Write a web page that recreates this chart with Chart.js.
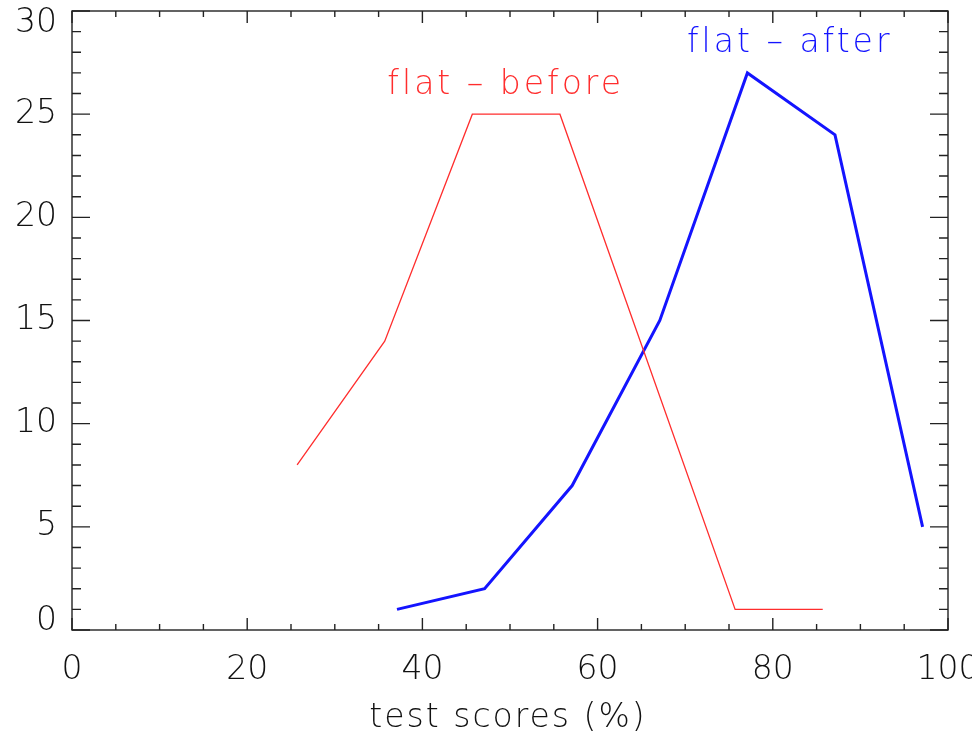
<!DOCTYPE html>
<html>
<head>
<meta charset="utf-8">
<script src="https://cdn.jsdelivr.net/npm/chart.js@4/dist/chart.umd.min.js"></script>
<style>
  html, body { margin: 0; padding: 0; background: #fff; }
  #wrap { width: 972px; height: 739px; }
</style>
</head>
<body>
<div id="wrap"><canvas id="scoreChart"></canvas></div>
<script>
// --- data ---
const beforeScores = [25.7, 35.7, 45.7, 55.7, 75.7, 85.7];
const beforeCounts = [8, 14, 25, 25, 1, 1];
const afterScores = [37.1, 47.1, 57.1, 67.1, 77.1, 87.1, 97.1];
const afterCounts = [1, 2, 7, 15, 27, 24, 5];

const xTickValues = [0, 20, 40, 60, 80, 100];
const yTickValues = [0, 5, 10, 15, 20, 25, 30];

// labels written inside the plot (left edge / baseline in data units)
const noteText = ['flat \u2013 before', 'flat \u2013 after'];
const noteX = [36, 70.2];
const noteY = [26, 28];
const noteColor = ['#ff2d2d', '#1414ff'];

const FONT = '"DejaVu Sans", sans-serif';
const WEIGHT = 200;

function toPoints(xs, ys) {
    return xs.map((x, i) => ({ x: x, y: ys[i] }));
}

// frame, IDL style inward ticks on all four sides, y labels and notes
const idlAxes = {
    id: 'idlAxes',
    afterDraw(chart) {
        const ctx = chart.ctx;
        const a = chart.chartArea;
        const xs = chart.scales.x;
        const ys = chart.scales.y;
        ctx.save();
        ctx.strokeStyle = '#222';
        ctx.lineWidth = 1.4;
        ctx.strokeRect(a.left, a.top, a.right - a.left, a.bottom - a.top);

        ctx.beginPath();
        for (let v = 0; v <= 100; v += 5) {
            const px = xs.getPixelForValue(v);
            const len = v % 20 === 0 ? 12 : 6;
            ctx.moveTo(px, a.bottom); ctx.lineTo(px, a.bottom - len);
            ctx.moveTo(px, a.top); ctx.lineTo(px, a.top + len);
        }
        for (let v = 0; v <= 30; v += 1) {
            const py = ys.getPixelForValue(v);
            const len = v % 5 === 0 ? 18 : 9;
            ctx.moveTo(a.left, py); ctx.lineTo(a.left + len, py);
            ctx.moveTo(a.right, py); ctx.lineTo(a.right - len, py);
        }
        ctx.stroke();

        // y tick labels, kept inside the frame at the ends like IDL does
        ctx.fillStyle = '#111';
        ctx.font = WEIGHT + ' 33px ' + FONT;
        ctx.textAlign = 'right';
        ctx.textBaseline = 'middle';
        yTickValues.forEach(v => {
            let py = ys.getPixelForValue(v);
            py = Math.min(Math.max(py, a.top + 12), a.bottom - 9);
            ctx.fillText(String(v), a.left - 15, py);
        });

        // notes
        ctx.textAlign = 'left';
        ctx.textBaseline = 'alphabetic';
        ctx.letterSpacing = '3px';
        noteText.forEach((t, i) => {
            ctx.fillStyle = noteColor[i];
            ctx.fillText(t, xs.getPixelForValue(noteX[i]), ys.getPixelForValue(noteY[i]));
        });

        // x axis title
        ctx.fillStyle = '#111';
        ctx.textAlign = 'center';
        ctx.letterSpacing = '2px';
        ctx.fillText('test scores (%)', (a.left + a.right) / 2 - 2, 727);
        ctx.restore();
    }
};

new Chart(document.getElementById('scoreChart'), {
    type: 'line',
    data: {
        datasets: [{
            label: 'flat - before',
            data: toPoints(beforeScores, beforeCounts),
            borderColor: noteColor[0],
            borderWidth: 1.3,
            pointRadius: 0,
            tension: 0
        }, {
            label: 'flat - after',
            data: toPoints(afterScores, afterCounts),
            borderColor: noteColor[1],
            borderWidth: 3,
            pointRadius: 0,
            tension: 0
        }]
    },
    options: {
        responsive: true,
        maintainAspectRatio: false,
        animation: false,
        layout: { padding: { top: 11, right: 24, left: 0, bottom: 0 } },
        plugins: { legend: { display: false }, tooltip: { enabled: false } },
        scales: {
            x: {
                type: 'linear',
                min: 0,
                max: 100,
                afterBuildTicks: s => { s.ticks = xTickValues.map(v => ({ value: v })); },
                ticks: { color: '#111', font: { family: FONT, size: 33, weight: WEIGHT }, padding: 21, maxRotation: 0 },
                grid: { display: false, drawTicks: false },
                border: { display: false },
                afterFit: s => { s.height = 109; s.paddingLeft = 0; s.paddingRight = 0; }
            },
            y: {
                type: 'linear',
                min: 0,
                max: 30,
                ticks: { display: false },
                grid: { display: false, drawTicks: false },
                border: { display: false },
                afterFit: s => { s.width = 72; s.paddingTop = 0; s.paddingBottom = 0; }
            }
        }
    },
    plugins: [idlAxes]
});
</script>
</body>
</html>
